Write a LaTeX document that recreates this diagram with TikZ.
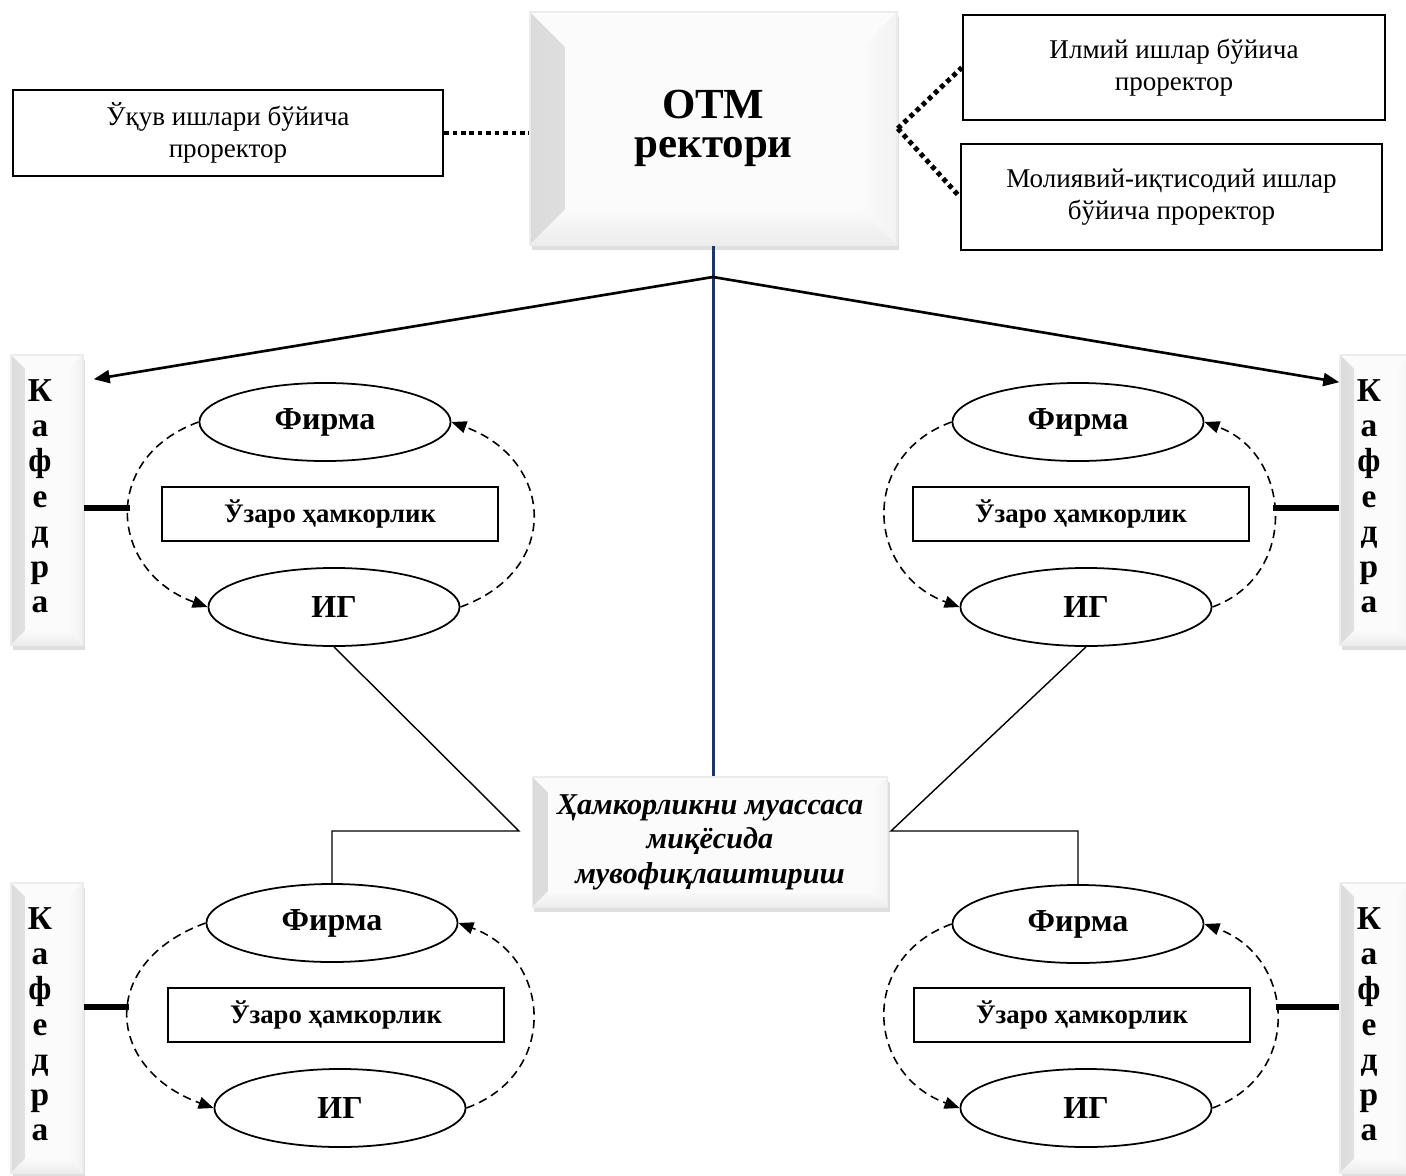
\documentclass[tikz,border=0pt]{standalone}
\usepackage{fontspec}
\setmainfont{Liberation Serif}
\usetikzlibrary{shapes.geometric, arrows.meta, shadows}

\definecolor{navyline}{RGB}{28,52,110}

\tikzset{
  bevelbox/.style={draw=gray!15, fill=gray!3,
    drop shadow={shadow xshift=0.02cm, shadow yshift=-0.05cm, opacity=0.25},
    path picture={
      \fill[left color=gray!28, right color=gray!5]
        (path picture bounding box.south west) -- (path picture bounding box.north west)
        -- ([shift={(#1,-#1)}]path picture bounding box.north west)
        -- ([shift={(#1,#1)}]path picture bounding box.south west) -- cycle;
      \fill[bottom color=gray!15, top color=gray!4]
        (path picture bounding box.south west) -- ([shift={(#1,#1)}]path picture bounding box.south west)
        -- ([shift={(-#1,#1)}]path picture bounding box.south east) -- (path picture bounding box.south east) -- cycle;
      \fill[left color=gray!4, right color=gray!10]
        (path picture bounding box.south east) -- ([shift={(-#1,#1)}]path picture bounding box.south east)
        -- ([shift={(-#1,-#1)}]path picture bounding box.north east) -- (path picture bounding box.north east) -- cycle;
    }},
  prbox/.style={draw, line width=0.55pt, align=center, inner sep=0pt,
    font=\fontsize{7.7}{9.1}\selectfont},
  firmnode/.style={draw, ellipse, line width=0.5pt, minimum width=2.51cm, minimum height=0.78cm,
    inner sep=0pt, font=\fontsize{9.1}{10}\selectfont\bfseries},
  coopbox/.style={draw, line width=0.5pt, minimum width=3.36cm, minimum height=0.54cm,
    inner sep=0pt, font=\fontsize{7.6}{9}\selectfont\bfseries},
  kafbox/.style={bevelbox=0.14cm, minimum width=0.72cm, minimum height=2.90cm, inner sep=0pt,
    font=\fontsize{9.5}{10}\selectfont\bfseries},
  dotline/.style={line width=1.4pt, dash pattern=on 1.3pt off 1.1pt},
  mainarrow/.style={line width=0.75pt, -{Triangle[length=0.16cm, width=0.13cm]}},
  loopline/.style={line width=0.45pt, dash pattern=on 2.4pt off 1.5pt,
    -{Triangle[length=0.15cm, width=0.12cm]}},
  kafline/.style={line width=1.7pt},
  thinline/.style={line width=0.4pt},
}

\newcommand{\kafword}{\begin{tabular}{@{}c@{\hspace{0.14cm}}}К\\а\\ф\\е\\д\\р\\а\end{tabular}}

\begin{document}
\begin{tikzpicture}[x=0.01cm, y=-0.01cm]
\useasboundingbox (0,0) rectangle (1406,1176);

% rector and prorectors
\node[bevelbox=0.35cm, minimum width=3.67cm, minimum height=2.33cm, align=center,
  font=\fontsize{12.2}{11.2}\selectfont\bfseries] (rector) at (713.5,128.5) {ОТМ\\ректори};
\node[prbox, minimum width=4.30cm, minimum height=0.86cm] (edu) at (228,133) {Ўқув ишлари бўйича\\проректор};
\node[prbox, minimum width=4.22cm, minimum height=1.05cm] (sci) at (1174,67.5) {Илмий ишлар бўйича\\проректор};
\node[prbox, minimum width=4.21cm, minimum height=1.06cm] (fin) at (1171.5,197) {Молиявий-иқтисодий ишлар\\бўйича проректор};

\draw[dotline] (edu.east) -- (rector.west |- edu.east);
\draw[dotline] (rector.east) -- (sci.west);
\draw[dotline] (rector.east) -- (fin.west);

% coordination in the middle
\node[bevelbox=0.15cm, minimum width=3.55cm, minimum height=1.30cm, align=center,
  font=\fontsize{8.6}{9.8}\selectfont\bfseries\itshape] (coord) at (710,842)
  {Ҳамкорликни муассаса\\миқёсида\\мувофиқлаштириш};
\draw[navyline, line width=0.6pt] (rector.south) -- (rector.south |- coord.north);

% departments
\node[kafbox] (kaf1) at (47,500) {\kafword};
\node[kafbox] (kaf2) at (1376,500) {\kafword};
\node[kafbox] (kaf3) at (47,1028) {\kafword};
\node[kafbox] (kaf4) at (1376,1028) {\kafword};

\coordinate (hub) at (713,277);
\draw[mainarrow] (hub) -- ([xshift=0.1cm, yshift=-0.25cm]kaf1.north east);
\draw[mainarrow] (hub) -- ([yshift=-0.28cm]kaf2.north west);

% top left group
\node[firmnode] (firm1) at (325,422) {Фирма};
\node[coopbox] (coop1) at (330,514) {Ўзаро ҳамкорлик};
\node[firmnode] (ig1) at (334,607) {ИГ};
\draw[loopline, looseness=1.45] (firm1.west) to[out=200, in=160] (ig1.west);
\draw[loopline, looseness=1.5] (ig1.east) to[out=20, in=-20] (firm1.east);
\coordinate (c1) at (130,508);
\draw[kafline] (kaf1.east |- c1) -- (c1);

% top right group
\node[firmnode] (firm2) at (1078,422) {Фирма};
\node[coopbox] (coop2) at (1081,514) {Ўзаро ҳамкорлик};
\node[firmnode] (ig2) at (1086,607) {ИГ};
\draw[loopline, looseness=1.37] (firm2.west) to[out=200, in=160] (ig2.west);
\draw[loopline, looseness=1.28] (ig2.east) to[out=20, in=-20] (firm2.east);
\coordinate (c2) at (1273,508);
\draw[kafline] (c2) -- (kaf2.west |- c2);

% bottom left group
\node[firmnode] (firm3) at (332,923) {Фирма};
\node[coopbox] (coop3) at (336,1015) {Ўзаро ҳамкорлик};
\node[firmnode] (ig3) at (340,1108) {ИГ};
\draw[loopline, looseness=1.59] (firm3.west) to[out=200, in=160] (ig3.west);
\draw[loopline, looseness=1.37] (ig3.east) to[out=20, in=-20] (firm3.east);
\coordinate (c3) at (129,1007);
\draw[kafline] (kaf3.east |- c3) -- (c3);

% bottom right group
\node[firmnode] (firm4) at (1078,924) {Фирма};
\node[coopbox] (coop4) at (1082,1015) {Ўзаро ҳамкорлик};
\node[firmnode] (ig4) at (1086,1108) {ИГ};
\draw[loopline, looseness=1.38] (firm4.west) to[out=200, in=160] (ig4.west);
\draw[loopline, looseness=1.34] (ig4.east) to[out=20, in=-20] (firm4.east);
\coordinate (c4) at (1276,1007);
\draw[kafline] (c4) -- (kaf4.west |- c4);

% links through the coordination box
\coordinate (j1) at (519,831);
\coordinate (j2) at (891,831);
\draw[thinline] (ig1.south) -- (j1) -- (j1 -| firm3.north) -- (firm3.north);
\draw[thinline] (ig2.south) -- (j2) -- (j2 -| firm4.north) -- (firm4.north);
\end{tikzpicture}
\end{document}
